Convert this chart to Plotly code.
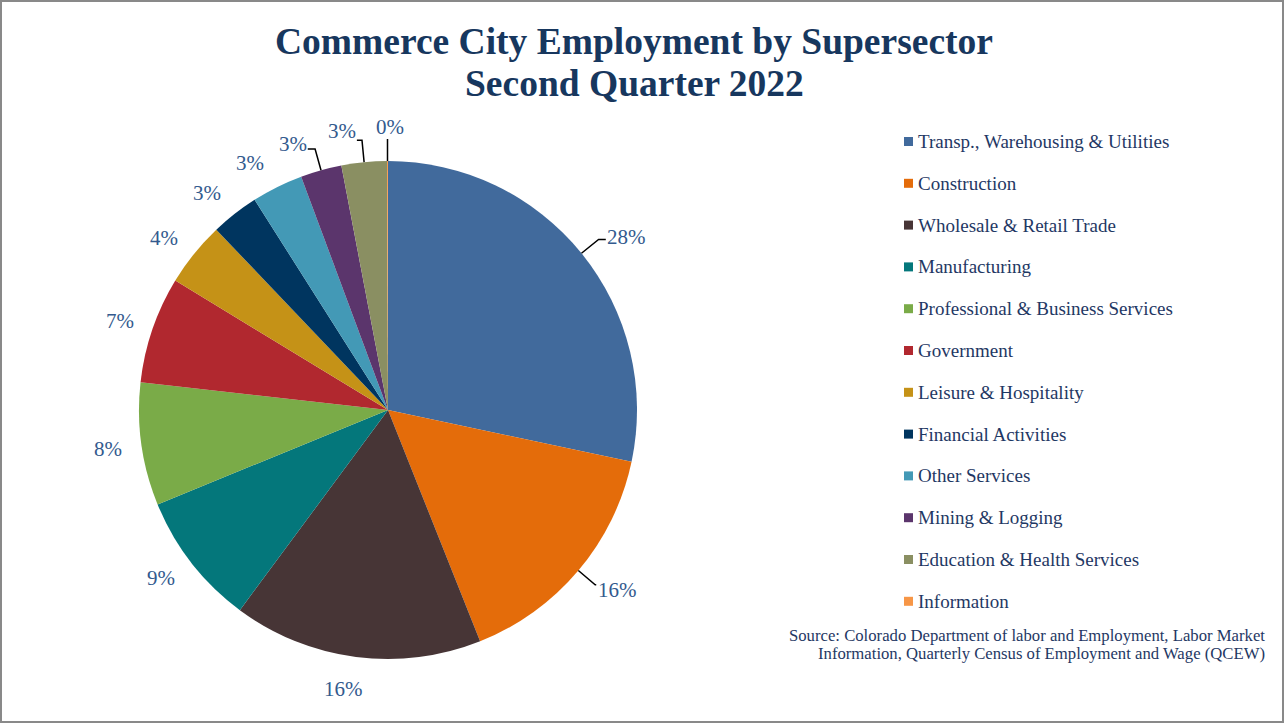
import math
import plotly.graph_objects as go

# ---------------- data ----------------
sectors = [
    "Transp., Warehousing & Utilities",
    "Construction",
    "Wholesale & Retail Trade",
    "Manufacturing",
    "Professional & Business Services",
    "Government",
    "Leisure & Hospitality",
    "Financial Activities",
    "Other Services",
    "Mining & Logging",
    "Education & Health Services",
    "Information",
]
share_pct = [28.33, 15.64, 16.17, 8.67, 7.97, 6.92, 4.19, 3.11, 3.33, 2.67, 2.94, 0.06]
colors = ["#416A9C", "#E46C0A", "#473536", "#04777B", "#7AAB48", "#B1282F",
          "#C59217", "#00355F", "#4399B6", "#5B356C", "#8A8F62", "#F79646"]

title_lines = ["Commerce City Employment by Supersector", "Second Quarter 2022"]
source_lines = ["Source: Colorado Department of labor and Employment, Labor Market",
                "Information, Quarterly Census of Employment and Wage (QCEW)"]

# ---------------- styling / layout constants ----------------
W, H = 1284, 723
CX, CY, R = 388, 410, 249          # pie centre & radius in px
LABEL_DIST = 1.135                 # label distance (x radius)
label_nudge_deg = [3, -2, 1.7, 1.3, 0, -0.5, -1.3, -1.7, -2.8, -4, -3.8, 0.5]
label_extra = [0.05, 0.035, 0, 0, 0, 0, 0, 0, 0, 0, 0, 0]
leader = [True, True, False, False, False, False, False, False, False, True, True, True]
LABEL_FS = 21
LABEL_COLOR = "#335A8E"
TEXT_COLOR = "#1F3864"
FONT = "Liberation Serif, Times New Roman, serif"


def px(x):
    return x / W


def py(y):
    return 1 - y / H


fig = go.Figure()
fig.add_trace(go.Pie(
    labels=sectors,
    values=share_pct,
    sort=False,
    direction="clockwise",
    rotation=0,
    marker=dict(colors=colors, line=dict(width=0)),
    textinfo="none",
    hoverinfo="label+percent",
    showlegend=False,
    domain=dict(x=[px(CX - R), px(CX + R)], y=[py(CY + R), py(CY - R)]),
))

annotations = []
shapes = []

# percentage labels & leader lines computed from data
total = sum(share_pct)
cum = 0.0
for i, v in enumerate(share_pct):
    mid = (cum + v / 2) / total * 360.0
    cum += v
    ang = math.radians(mid + label_nudge_deg[i])
    d = R * (LABEL_DIST + label_extra[i])
    lx = CX + d * math.sin(ang)
    ly = CY - d * math.cos(ang)
    txt = f"{round(v / total * 100)}%"
    annotations.append(dict(x=px(lx), y=py(ly), xref="paper", yref="paper",
                            text=txt, showarrow=False, xanchor="center", yanchor="middle",
                            font=dict(family=FONT, size=LABEL_FS, color=LABEL_COLOR)))
    if leader[i]:
        m = math.radians(mid)
        ex, ey = CX + R * math.sin(m), CY - R * math.cos(m)
        bx, by = CX + (R + 22) * math.sin(m), CY - (R + 22) * math.cos(m)
        hw = len(txt) * 0.3 * LABEL_FS
        pts = [(ex, ey), (bx, by)]
        if bx < lx - hw:
            pts.append((lx - hw - 2, by))
        elif bx > lx + hw:
            pts.append((lx + hw + 2, by))
        path = "M " + " L ".join(f"{px(a)},{py(b)}" for a, b in pts)
        shapes.append(dict(type="path", path=path, xref="paper", yref="paper",
                           line=dict(color="black", width=1.5)))

# title
for j, (t, yy) in enumerate(zip(title_lines, [41, 83])):
    annotations.append(dict(x=px(634), y=py(yy), xref="paper", yref="paper", text=f"<b>{t}</b>",
                            showarrow=False, xanchor="center", yanchor="middle",
                            font=dict(family=FONT, size=37.5, color="#17375E")))

# manual legend
LEG_X, LEG_Y0, LEG_DY = 904, 141.5, 41.8
for i, (name, c) in enumerate(zip(sectors, colors)):
    yc = LEG_Y0 + i * LEG_DY
    shapes.append(dict(type="rect", xref="paper", yref="paper",
                       x0=px(LEG_X), x1=px(LEG_X + 9), y0=py(yc + 4.5), y1=py(yc - 4.5),
                       fillcolor=c, line=dict(width=0)))
    annotations.append(dict(x=px(LEG_X + 12), y=py(yc), xref="paper", yref="paper", text=name,
                            showarrow=False, xanchor="left", yanchor="middle",
                            font=dict(family=FONT, size=19, color=TEXT_COLOR)))

# source
for t, yy in zip(source_lines, [635.5, 653.8]):
    annotations.append(dict(x=px(1267), y=py(yy), xref="paper", yref="paper", text=t,
                            showarrow=False, xanchor="right", yanchor="middle",
                            font=dict(family=FONT, size=16.7, color=TEXT_COLOR)))

# border
shapes.append(dict(type="rect", xref="paper", yref="paper", x0=0, x1=1, y0=0, y1=1,
                   line=dict(color="#898989", width=4), fillcolor="rgba(0,0,0,0)"))

fig.update_layout(
    width=W, height=H,
    margin=dict(l=0, r=0, t=0, b=0),
    paper_bgcolor="white", plot_bgcolor="white",
    annotations=annotations, shapes=shapes,
    showlegend=False,
)
fig.write_html("out.html")
